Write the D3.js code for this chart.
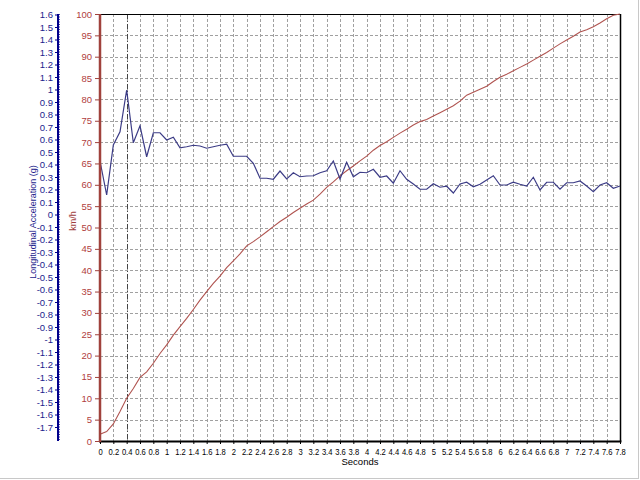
<!DOCTYPE html>
<html><head><meta charset="utf-8">
<script src="https://cdn.jsdelivr.net/npm/d3@7"></script>
<style>body{margin:0;background:#fff}svg{display:block;font-family:"Liberation Sans",Arial,sans-serif}</style>
</head><body><svg id="c" width="640" height="480"></svg>
<script>
const times = [0,0.1,0.2,0.3,0.4,0.5,0.6,0.7,0.8,0.9,1,1.1,1.2,1.3,1.4,1.5,1.6,1.7,1.8,1.9,2,2.1,2.2,2.3,2.4,2.5,2.6,2.7,2.8,2.9,3,3.1,3.2,3.3,3.4,3.5,3.6,3.7,3.8,3.9,4,4.1,4.2,4.3,4.4,4.5,4.6,4.7,4.8,4.9,5,5.1,5.2,5.3,5.4,5.5,5.6,5.7,5.8,5.9,6,6.1,6.2,6.3,6.4,6.5,6.6,6.7,6.8,6.9,7,7.1,7.2,7.3,7.4,7.5,7.6,7.7,7.8];
const accelG = [0.428,0.156,0.556,0.662,0.996,0.574,0.710,0.462,0.654,0.654,0.596,0.618,0.534,0.542,0.554,0.548,0.530,0.542,0.554,0.562,0.466,0.466,0.466,0.410,0.290,0.290,0.282,0.348,0.284,0.334,0.302,0.308,0.310,0.334,0.350,0.428,0.284,0.418,0.302,0.338,0.334,0.362,0.298,0.308,0.250,0.350,0.282,0.244,0.202,0.202,0.246,0.218,0.226,0.172,0.244,0.258,0.222,0.242,0.276,0.310,0.236,0.236,0.258,0.242,0.228,0.298,0.196,0.258,0.258,0.202,0.254,0.254,0.268,0.228,0.182,0.236,0.254,0.210,0.228];
const speedKmh = [1.6,2.2,4.0,6.9,10.0,12.3,14.9,16.2,18.2,20.5,22.5,24.8,26.8,28.7,30.8,33.0,35.0,36.9,38.6,40.6,42.2,43.8,45.7,46.7,47.8,49.0,50.2,51.4,52.4,53.5,54.5,55.5,56.4,57.8,59.4,60.7,62.1,63.3,64.4,65.6,66.7,68.1,69.2,70.1,71.1,72.1,73.0,74.0,74.8,75.3,76.1,76.9,77.7,78.5,79.6,81.0,81.7,82.4,83.1,84.2,85.2,85.9,86.7,87.5,88.3,89.2,90.1,91.0,92.0,93.0,93.9,94.8,95.8,96.3,97.0,97.9,98.9,99.7,100];
const xTicks = [0,0.2,0.4,0.6,0.8,1,1.2,1.4,1.6,1.8,2,2.2,2.4,2.6,2.8,3,3.2,3.4,3.6,3.8,4,4.2,4.4,4.6,4.8,5,5.2,5.4,5.6,5.8,6,6.2,6.4,6.6,6.8,7,7.2,7.4,7.6,7.8];
const speedTicks = [0,5,10,15,20,25,30,35,40,45,50,55,60,65,70,75,80,85,90,95,100];
const gTicks = [-1.7,-1.6,-1.5,-1.4,-1.3,-1.2,-1.1,-1,-0.9,-0.8,-0.7,-0.6,-0.5,-0.4,-0.3,-0.2,-0.1,0,0.1,0.2,0.3,0.4,0.5,0.6,0.7,0.8,0.9,1,1.1,1.2,1.3,1.4,1.5,1.6];
const cursorTime = 0.4;
const xTitle = "Seconds", speedTitle = "km/h", gTitle = "Longitudinal Acceleration (g)";

const L = 100, R = 620, T = 14, B = 441;
const svg = d3.select("#c");
const x = d3.scaleLinear().domain([0, 7.8]).range([L, R]);
const yS = d3.scaleLinear().domain([0, 100]).range([B, T]);
const yG = d3.scaleLinear().domain([-1.812, 1.604]).range([B, T]);
const fmt = d => d3.format("~g")(d).replace("\u2212", "-");
const FONT = '"Liberation Sans",Arial,sans-serif';

// outer panel edges
svg.append("line").attr("x1",0).attr("x2",638).attr("y1",478.5).attr("y2",478.5).attr("stroke","#c8c8c8");
svg.append("line").attr("x1",638.5).attr("x2",638.5).attr("y1",0).attr("y2",479).attr("stroke","#c8c8c8");

// grid
const grid = svg.append("g").attr("stroke","#a0a0a0").attr("stroke-dasharray","3,2").attr("stroke-width",1);
xTicks.filter(d => d > 0 && d < 7.8).forEach(d => {
  grid.append("line").attr("x1", Math.round(x(d))+0.5).attr("x2", Math.round(x(d))+0.5).attr("y1", T).attr("y2", B);
});
speedTicks.filter(d => d > 0 && d < 100).forEach(d => {
  grid.append("line").attr("x1", L).attr("x2", R).attr("y1", Math.round(yS(d))+0.5).attr("y2", Math.round(yS(d))+0.5);
});

// cursor line
svg.append("line").attr("x1", Math.round(x(cursorTime))+0.5).attr("x2", Math.round(x(cursorTime))+0.5)
  .attr("y1", T).attr("y2", B).attr("stroke","#444").attr("stroke-dasharray","5,2,1,2");

// frame
svg.append("line").attr("x1",L).attr("x2",R+1).attr("y1",T+0.5).attr("y2",T+0.5).attr("stroke","#000");
svg.append("line").attr("x1",R+0.5).attr("x2",R+0.5).attr("y1",T).attr("y2",B).attr("stroke","#000").attr("stroke-width",1.5);

// data lines
const lineS = d3.line().x((d,i) => x(times[i])).y(d => yS(d));
const lineG = d3.line().x((d,i) => x(times[i])).y(d => yG(d));
svg.append("path").attr("d", lineS(speedKmh)).attr("fill","none").attr("stroke","#b05450").attr("stroke-width",1.1);
svg.append("path").attr("d", lineG(accelG)).attr("fill","none").attr("stroke","#3c3c86").attr("stroke-width",1.2);

// bottom axis
const xAxis = svg.append("g").attr("transform",`translate(0,${B})`)
  .call(d3.axisBottom(x).tickValues(xTicks).tickFormat(fmt).tickSize(3).tickPadding(4));
xAxis.select(".domain").remove();
xAxis.selectAll("text").attr("font-size", 9.5).attr("fill","#000").attr("font-family",FONT)
  .attr("textLength", function(){ return this.getComputedTextLength() * 0.8; }).attr("lengthAdjust","spacingAndGlyphs");
xAxis.selectAll("line").attr("stroke","#000");
svg.append("line").attr("x1",L-1).attr("x2",R+1.5).attr("y1",B+0.5).attr("y2",B+0.5).attr("stroke","#000").attr("stroke-width",2.2);
svg.append("text").attr("x",360).attr("y",465).attr("text-anchor","middle").attr("font-size",9.5).text(xTitle);

// speed axis
const sAxis = svg.append("g").attr("transform",`translate(${L},0)`)
  .call(d3.axisLeft(yS).tickValues(speedTicks).tickFormat(fmt).tickSize(5).tickPadding(3));
sAxis.select(".domain").remove();
sAxis.selectAll("text").attr("font-size", 9.5).attr("fill","#b04040").attr("font-family",FONT);
sAxis.selectAll("line").attr("stroke","#a0423c");
svg.append("line").attr("x1",L).attr("x2",L).attr("y1",T).attr("y2",B+1).attr("stroke","#a0423c").attr("stroke-width",2.5);
svg.append("text").attr("transform","translate(76,221) rotate(-90)").attr("text-anchor","middle")
  .attr("font-size",9).attr("fill","#a03c3c").text(speedTitle);

// acceleration axis
const gAxis = svg.append("g").attr("transform",`translate(58,0)`)
  .call(d3.axisLeft(yG).tickValues(gTicks).tickFormat(fmt).tickSize(3).tickPadding(2));
gAxis.select(".domain").remove();
gAxis.selectAll("text").attr("font-size", 9.5).attr("fill","#1c1c8c").attr("font-family",FONT);
gAxis.selectAll("line").attr("stroke","#00008b");
svg.append("line").attr("x1",58).attr("x2",58).attr("y1",T).attr("y2",B).attr("stroke","#00008b").attr("stroke-width",2);
svg.append("line").attr("x1",59.5).attr("x2",59.5).attr("y1",T).attr("y2",B).attr("stroke","#4848b0").attr("stroke-width",1).attr("stroke-dasharray","1,1.5");
svg.append("text").attr("transform","translate(36,222) rotate(-90)").attr("text-anchor","middle")
  .attr("font-size",9).attr("fill","#1c1c8c").text(gTitle);
</script></body></html>
